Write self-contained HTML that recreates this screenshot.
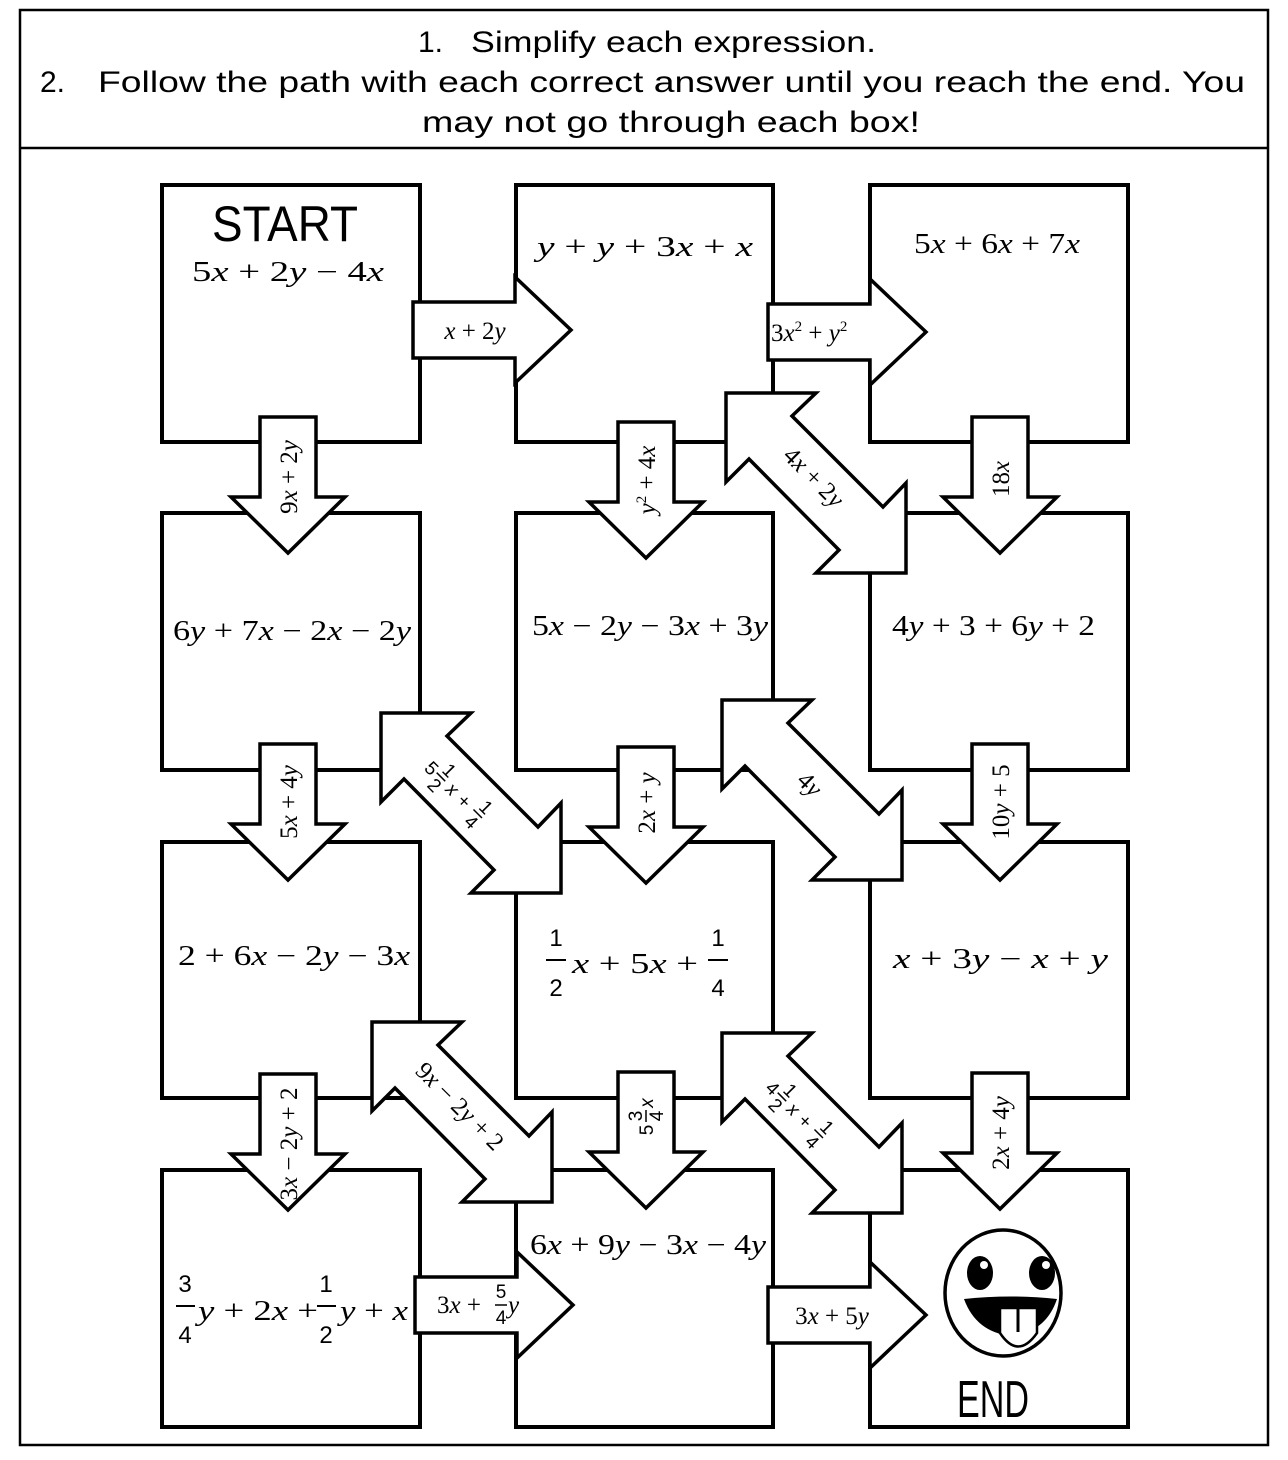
<!DOCTYPE html>
<html><head><meta charset="utf-8"><style>
html,body{margin:0;padding:0;background:#fff;}
svg{display:block;}
.m{font-family:"Liberation Serif",serif;font-size:28px;fill:#000;}
.s{font-family:"Liberation Serif",serif;font-size:25px;fill:#000;}
.i{font-style:italic;}
.f{font-family:"Liberation Sans",sans-serif;font-size:24px;fill:#000;}
.fs{font-family:"Liberation Sans",sans-serif;font-size:19px;fill:#000;}
.h{font-family:"Liberation Sans",sans-serif;font-size:30px;fill:#000;}
.box{fill:#fff;stroke:#000;stroke-width:4;}
.ar{fill:#fff;stroke:#000;stroke-width:3.5;stroke-linejoin:miter;}
</style></head><body>
<svg width="1288" height="1460" viewBox="0 0 1288 1460" xmlns="http://www.w3.org/2000/svg">
<defs>
<path id="dg" d="M0,0 L90,0 L66,23 L157,114 L180,90 L180,180 L90,180 L113,157 L23,66 L0,89 Z"/>
<path id="dn" d="M-28,0 L28,0 L28,80 L57,80 L0,136 L-57,80 L-28,80 Z"/>
<path id="rt" d="M0,-28 L102,-28 L102,-53 L158,0 L102,53 L102,28 L0,28 Z"/>
</defs>
<rect x="20" y="10" width="1248" height="1435" fill="none" stroke="#000" stroke-width="2.5"/>
<line x1="20" y1="148" x2="1268" y2="148" stroke="#000" stroke-width="2.5"/>
<text class="h" x="418" y="52">1.</text>
<text class="h" x="471" y="52" textLength="405" lengthAdjust="spacingAndGlyphs">Simplify each expression.</text>
<text class="h" x="40" y="92">2.</text>
<text class="h" x="98" y="92" textLength="1147" lengthAdjust="spacingAndGlyphs">Follow the path with each correct answer until you reach the end. You</text>
<text class="h" x="422" y="132" textLength="498" lengthAdjust="spacingAndGlyphs">may not go through each box!</text>

<rect class="box" x="162" y="185" width="258" height="257"/>
<rect class="box" x="516" y="185" width="257" height="257"/>
<rect class="box" x="870" y="185" width="258" height="257"/>
<rect class="box" x="162" y="513" width="258" height="257"/>
<rect class="box" x="516" y="513" width="257" height="257"/>
<rect class="box" x="870" y="513" width="258" height="257"/>
<rect class="box" x="162" y="842" width="258" height="256"/>
<rect class="box" x="516" y="842" width="257" height="256"/>
<rect class="box" x="870" y="842" width="258" height="256"/>
<rect class="box" x="162" y="1170" width="258" height="257"/>
<rect class="box" x="516" y="1170" width="257" height="257"/>
<rect class="box" x="870" y="1170" width="258" height="257"/>

<text x="285" y="241" text-anchor="middle" font-family="Liberation Sans,sans-serif" font-size="50" textLength="146" lengthAdjust="spacingAndGlyphs">START</text>
<text class="m" x="192" y="281" textLength="192" lengthAdjust="spacingAndGlyphs">5<tspan class="i">x</tspan> + 2<tspan class="i">y</tspan> − 4<tspan class="i">x</tspan></text>
<text class="m" x="537" y="256" textLength="216" lengthAdjust="spacingAndGlyphs"><tspan class="i">y</tspan> + <tspan class="i">y</tspan> + 3<tspan class="i">x</tspan> + <tspan class="i">x</tspan></text>
<text class="m" x="914" y="253" textLength="166" lengthAdjust="spacingAndGlyphs">5<tspan class="i">x</tspan> + 6<tspan class="i">x</tspan> + 7<tspan class="i">x</tspan></text>
<text class="m" x="173" y="640" textLength="238" lengthAdjust="spacingAndGlyphs">6<tspan class="i">y</tspan> + 7<tspan class="i">x</tspan> − 2<tspan class="i">x</tspan> − 2<tspan class="i">y</tspan></text>
<text class="m" x="532" y="635" textLength="236" lengthAdjust="spacingAndGlyphs">5<tspan class="i">x</tspan> − 2<tspan class="i">y</tspan> − 3<tspan class="i">x</tspan> + 3<tspan class="i">y</tspan></text>
<text class="m" x="892" y="635" textLength="203" lengthAdjust="spacingAndGlyphs">4<tspan class="i">y</tspan> + 3 + 6<tspan class="i">y</tspan> + 2</text>
<text class="m" x="178" y="965" textLength="232" lengthAdjust="spacingAndGlyphs">2 + 6<tspan class="i">x</tspan> − 2<tspan class="i">y</tspan> − 3<tspan class="i">x</tspan></text>
<text class="m" x="893" y="968" textLength="215" lengthAdjust="spacingAndGlyphs"><tspan class="i">x</tspan> + 3<tspan class="i">y</tspan> − <tspan class="i">x</tspan> + <tspan class="i">y</tspan></text>
<text class="f" x="556" y="946" text-anchor="middle">1</text>
<line x1="546" y1="960" x2="566" y2="960" stroke="#000" stroke-width="2"/>
<text class="f" x="556" y="996" text-anchor="middle">2</text>
<text class="m" x="572" y="973" textLength="126" lengthAdjust="spacingAndGlyphs"><tspan class="i">x</tspan> + 5<tspan class="i">x</tspan> +</text>
<text class="f" x="718" y="946" text-anchor="middle">1</text>
<line x1="708" y1="960" x2="728" y2="960" stroke="#000" stroke-width="2"/>
<text class="f" x="718" y="996" text-anchor="middle">4</text>
<text class="f" x="185" y="1292" text-anchor="middle">3</text>
<line x1="176" y1="1306" x2="195" y2="1306" stroke="#000" stroke-width="2"/>
<text class="f" x="185" y="1343" text-anchor="middle">4</text>
<text class="m" x="198" y="1320" textLength="120" lengthAdjust="spacingAndGlyphs"><tspan class="i">y</tspan> + 2<tspan class="i">x</tspan> +</text>
<text class="f" x="326" y="1292" text-anchor="middle">1</text>
<line x1="317" y1="1306" x2="336" y2="1306" stroke="#000" stroke-width="2"/>
<text class="f" x="326" y="1343" text-anchor="middle">2</text>
<text class="m" x="340" y="1320" textLength="68" lengthAdjust="spacingAndGlyphs"><tspan class="i">y</tspan> + <tspan class="i">x</tspan></text>
<text class="m" x="530" y="1254" textLength="236" lengthAdjust="spacingAndGlyphs">6<tspan class="i">x</tspan> + 9<tspan class="i">y</tspan> − 3<tspan class="i">x</tspan> − 4<tspan class="i">y</tspan></text>

<g transform="translate(413,330)"><use href="#rt" class="ar"/><text class="s" x="62" y="9" text-anchor="middle"><tspan class="i">x</tspan> + 2<tspan class="i">y</tspan></text></g>
<g transform="translate(768,332)"><use href="#rt" class="ar"/><text class="s" x="3" y="9"><tspan>3</tspan><tspan class="i">x</tspan><tspan font-size="15" dy="-10">2</tspan><tspan dy="10"> + </tspan><tspan class="i">y</tspan><tspan font-size="15" dy="-10">2</tspan></text></g>
<g transform="translate(415,1305)"><use href="#rt" class="ar"/><text class="s" x="22" y="8">3<tspan class="i">x</tspan> +</text><text class="fs" x="86" y="-7" text-anchor="middle">5</text><line x1="80" y1="0" x2="92" y2="0" stroke="#000" stroke-width="1.5"/><text class="fs" x="86" y="19" text-anchor="middle">4</text><text class="s i" x="93" y="8">y</text></g>
<g transform="translate(768,1315)"><use href="#rt" class="ar"/><text class="s" x="64" y="9" text-anchor="middle">3<tspan class="i">x</tspan> + 5<tspan class="i">y</tspan></text></g>

<g transform="translate(288,417)"><use href="#dn" class="ar"/><text class="s" transform="translate(9,60) rotate(-90)" text-anchor="middle">9<tspan class="i">x</tspan> + 2<tspan class="i">y</tspan></text></g>
<g transform="translate(646,422)"><use href="#dn" class="ar"/><text class="s" transform="translate(9,58) rotate(-90)" text-anchor="middle"><tspan class="i">y</tspan><tspan font-size="15" dy="-9">2</tspan><tspan dy="9"> + 4</tspan><tspan class="i">x</tspan></text></g>
<g transform="translate(1000,417)"><use href="#dn" class="ar"/><text class="s" transform="translate(9,62) rotate(-90)" text-anchor="middle">18<tspan class="i">x</tspan></text></g>
<g transform="translate(288,744)"><use href="#dn" class="ar"/><text class="s" transform="translate(9,58) rotate(-90)" text-anchor="middle">5<tspan class="i">x</tspan> + 4<tspan class="i">y</tspan></text></g>
<g transform="translate(646,747)"><use href="#dn" class="ar"/><text class="s" transform="translate(9,56) rotate(-90)" text-anchor="middle">2<tspan class="i">x</tspan> + <tspan class="i">y</tspan></text></g>
<g transform="translate(1000,744)"><use href="#dn" class="ar"/><text class="s" transform="translate(9,58) rotate(-90)" text-anchor="middle">10<tspan class="i">y</tspan> + 5</text></g>
<g transform="translate(288,1074)"><use href="#dn" class="ar"/><text class="s" transform="translate(9,70) rotate(-90)" text-anchor="middle">3<tspan class="i">x</tspan> − 2<tspan class="i">y</tspan> + 2</text></g>
<g transform="translate(646,1072)"><use href="#dn" class="ar"/><g transform="translate(0,44) rotate(-90)"><text class="fs" x="-14" y="7" text-anchor="middle">5</text><text class="fs" x="0" y="-4" text-anchor="middle">3</text><line x1="-6" y1="0" x2="6" y2="0" stroke="#000" stroke-width="1.5"/><text class="fs" x="0" y="17" text-anchor="middle">4</text><text class="fs i" x="13" y="7" text-anchor="middle">x</text></g></g>
<g transform="translate(1000,1073)"><use href="#dn" class="ar"/><text class="s" transform="translate(9,60) rotate(-90)" text-anchor="middle">2<tspan class="i">x</tspan> + 4<tspan class="i">y</tspan></text></g>

<g transform="translate(726,393)"><use href="#dg" class="ar"/><text class="s" transform="translate(82,90) rotate(45)" text-anchor="middle">4<tspan class="i">x</tspan> + 2<tspan class="i">y</tspan></text></g>
<g transform="translate(722,700)"><use href="#dg" class="ar"/><text class="s" transform="translate(82,90) rotate(45)" text-anchor="middle">4<tspan class="i">y</tspan></text></g>
<g transform="translate(372,1022)"><use href="#dg" class="ar"/><text class="s" transform="translate(82,90) rotate(45)" text-anchor="middle">9<tspan class="i">x</tspan> − 2<tspan class="i">y</tspan> + 2</text></g>
<g transform="translate(381,713)"><use href="#dg" class="ar"/><g transform="translate(84,88) rotate(45)">
<text class="fs" x="-52" y="7">5</text><text class="fs" x="-38" y="-4">1</text><line x1="-40" y1="0" x2="-28" y2="0" stroke="#000" stroke-width="1.5"/><text class="fs" x="-38" y="17">2</text>
<text class="fs i" x="-22" y="7">x</text><text class="fs" x="-6" y="7">+</text>
<text class="fs" x="14" y="-4">1</text><line x1="12" y1="0" x2="24" y2="0" stroke="#000" stroke-width="1.5"/><text class="fs" x="14" y="17">4</text></g></g>
<g transform="translate(722,1033)"><use href="#dg" class="ar"/><g transform="translate(84,88) rotate(45)">
<text class="fs" x="-52" y="7">4</text><text class="fs" x="-38" y="-4">1</text><line x1="-40" y1="0" x2="-28" y2="0" stroke="#000" stroke-width="1.5"/><text class="fs" x="-38" y="17">2</text>
<text class="fs i" x="-22" y="7">x</text><text class="fs" x="-6" y="7">+</text>
<text class="fs" x="14" y="-4">1</text><line x1="12" y1="0" x2="24" y2="0" stroke="#000" stroke-width="1.5"/><text class="fs" x="14" y="17">4</text></g></g>

<ellipse cx="1003" cy="1293" rx="58" ry="63" fill="#fff" stroke="#000" stroke-width="3.5"/>
<ellipse cx="980" cy="1273" rx="13" ry="17" fill="#000"/>
<ellipse cx="1042" cy="1273" rx="13" ry="17" fill="#000"/>
<circle cx="984" cy="1265" r="4" fill="#fff"/>
<circle cx="1046" cy="1265" r="4" fill="#fff"/>
<path d="M964,1299 Q1011,1294 1057,1299 Q1046,1332 1011,1336 Q976,1332 964,1299 Z" fill="#000"/>
<path d="M1000,1308 L1037,1308 L1037,1333 Q1018,1360 1000,1333 Z" fill="#fff" stroke="#000" stroke-width="2.5"/>
<line x1="1018" y1="1309" x2="1018" y2="1332" stroke="#000" stroke-width="3"/>
<text x="993" y="1417" text-anchor="middle" font-family="Liberation Sans,sans-serif" font-size="52" textLength="72" lengthAdjust="spacingAndGlyphs">END</text>
</svg>
</body></html>
